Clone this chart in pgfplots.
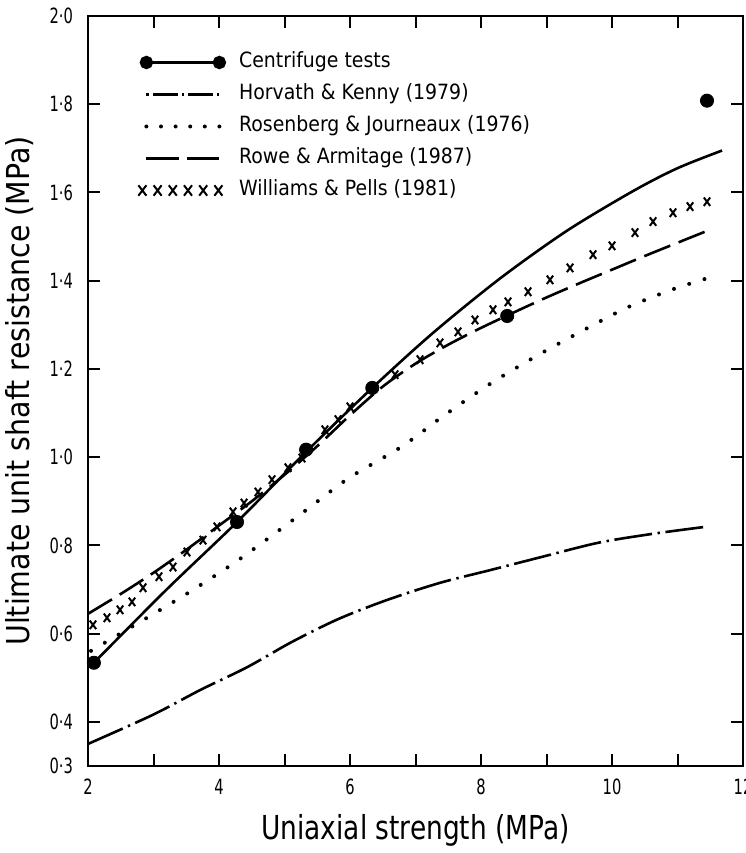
\documentclass[border=0pt]{standalone}
\usepackage{pgfplots}
\pgfplotsset{compat=1.18}
\usepackage{fontspec}
\setmainfont{DejaVu Sans}[FakeStretch=0.8]
\newfontfamily\widefont{DejaVu Sans}[FakeStretch=0.9]
\newfontfamily\ticfont{DejaVu Sans}[FakeStretch=0.7]

\begin{document}
\begin{tikzpicture}
\begin{axis}[
  scale only axis,
  width=327.5pt, height=375pt,
  xmin=2, xmax=12, ymin=0.3, ymax=2.0,
  axis line style={line width=1pt},
  xtick={2,3,...,12},
  xticklabels={2,,4,,6,,8,,10,,12},
  ytick={0.3,0.4,0.6,0.8,1.0,1.2,1.4,1.6,1.8,2.0},
  yticklabels={0·3,0·4,0·6,0·8,1·0,1·2,1·4,1·6,1·8,2·0},
  tick align=inside,
  major tick length=6pt,
  tick style={black, line width=1pt},
  xtick pos=both, ytick pos=both,
  xticklabel pos=lower, yticklabel pos=left,
  tick label style={font=\ticfont\fontsize{10.5}{12}\selectfont},
  xticklabel style={yshift=-3pt},
  yticklabel style={xshift=-4pt},
  xlabel={Uniaxial strength (MPa)},
  ylabel={Ultimate unit shaft resistance (MPa)},
  xlabel style={at={(axis description cs:0.5,-0.0853)}, anchor=center, font=\fontsize{16.5}{18}\selectfont},
  ylabel style={at={(axis description cs:-0.1038,0.5)}, anchor=center, font=\widefont\fontsize{15.8}{17}\selectfont},
  legend cell align=left,
  legend style={draw=none, fill=none, inner sep=0pt,
    at={(axis description cs:0,1)}, anchor=north west, xshift=24.5pt, yshift=-17.8pt,
    font=\widefont\fontsize{10.5}{12}\selectfont,
    nodes={inner sep=0pt, text height=8pt, text depth=2.5pt},
    row sep=5.5pt,
    /tikz/every odd column/.append style={column sep=6.5pt}},
]
\coordinate (SW) at (rel axis cs:0,0);
\coordinate (NE) at (rel axis cs:1,1);

% Centrifuge tests - fitted curve
\addplot[black, line width=1.3pt, smooth,
  legend image code/.code={
    \draw[line width=1.3pt] (0pt,0pt) -- (36.5pt,0pt);
    \fill (0pt,0pt) circle (2.7pt);
    \fill (36.5pt,0pt) circle (2.7pt);
  }] coordinates {
 (2.09,0.534) (3.2,0.700) (4.275,0.853) (5.33,1.012) (6.34,1.157) (7.27,1.282)
 (8.29,1.405) (9.31,1.513) (10.32,1.603) (11.0,1.655) (11.68,1.695)
};
% Centrifuge tests - points
\addplot[black, only marks, mark=*, mark size=3.3pt, forget plot] coordinates {
 (2.09,0.534) (4.275,0.853) (5.33,1.017) (6.34,1.157) (8.40,1.320) (11.45,1.808)
};
% Horvath & Kenny (1979)
\addplot[black, line width=1.3pt, smooth, dash pattern=on 19pt off 2.8pt on 1.2pt off 2.8pt,
  legend image code/.code={
    \draw[line width=1.3pt, dash pattern=on 1.2pt off 2pt on 12.5pt off 2pt] (0pt,0pt) -- (36.5pt,0pt);
  }] coordinates {
 (2.0,0.350) (2.99,0.416) (3.71,0.472) (4.43,0.524) (5.11,0.581) (5.82,0.633)
 (6.56,0.676) (7.37,0.715) (8.14,0.744) (8.93,0.774) (9.79,0.806) (10.61,0.826) (11.42,0.842)
};
% Rosenberg & Journeaux (1976)
\addplot[black, line width=2pt, line cap=round, smooth, dash pattern=on 0pt off 8pt,
  legend image code/.code={
    \draw[line width=2pt, line cap=round, dash pattern=on 0pt off 7.3pt] (0pt,0pt) -- (36.6pt,0pt);
  }] coordinates {
 (2.046,0.561) (2.901,0.636) (3.557,0.695) (4.229,0.760) (4.779,0.819) (5.374,0.885)
 (5.985,0.953) (6.779,1.023) (7.450,1.096) (8.137,1.166) (8.855,1.230) (9.542,1.286)
 (10.229,1.339) (10.901,1.379) (11.420,1.404)
};
% Rowe & Armitage (1987)
\addplot[black, line width=1.3pt, smooth, dash pattern=on 14pt off 4.5pt,
  legend image code/.code={
    \draw[line width=1.3pt, dash pattern=on 16.25pt off 4pt] (0pt,0pt) -- (36.5pt,0pt);
  }] coordinates {
 (2.0,0.645) (2.5,0.690) (3.0,0.738) (3.5,0.790) (4.0,0.845) (4.5,0.900) (5.0,0.960)
 (5.5,1.025) (6.0,1.095) (6.5,1.160) (7.0,1.212) (7.5,1.255) (8.0,1.293) (8.5,1.328)
 (9.0,1.362) (9.5,1.394) (10.0,1.425) (10.5,1.456) (11.0,1.486) (11.42,1.511)
};
% Williams & Pells (1981)
\addplot[black, only marks, mark=x, mark size=3pt, mark options={xscale=0.75, line width=1pt},
  legend image code/.code={
    \foreach \i in {0,...,5} {
      \draw[line width=1pt] ({\i*7.6pt-4pt},-2.6pt) -- ({\i*7.6pt},2.6pt)
                            ({\i*7.6pt-4pt},2.6pt) -- ({\i*7.6pt},-2.6pt);
    }
  }] coordinates {
 (2.076,0.620) (2.290,0.636) (2.489,0.654) (2.672,0.672) (2.840,0.704) (3.084,0.729)
 (3.298,0.751) (3.511,0.785) (3.756,0.812) (3.969,0.842) (4.214,0.876) (4.382,0.896)
 (4.595,0.921) (4.809,0.949) (5.053,0.976) (5.267,0.998) (5.618,1.062) (5.817,1.085)
 (6.000,1.114) (6.687,1.187) (7.069,1.221) (7.374,1.259) (7.649,1.284) (7.908,1.311)
 (8.183,1.334) (8.412,1.352) (8.718,1.375) (9.053,1.402) (9.359,1.429) (9.710,1.459)
 (10.000,1.479) (10.351,1.509) (10.626,1.534) (10.931,1.554) (11.191,1.568) (11.450,1.579)
};
\legend{Centrifuge tests, Horvath \& Kenny (1979), Rosenberg \& Journeaux (1976), Rowe \& Armitage (1987), Williams \& Pells (1981)}
\end{axis}
\pgfresetboundingbox
\path[use as bounding box] ([xshift=-44pt,yshift=-43.5pt]SW) rectangle ([xshift=1pt,yshift=8pt]NE);
\end{tikzpicture}
\end{document}
